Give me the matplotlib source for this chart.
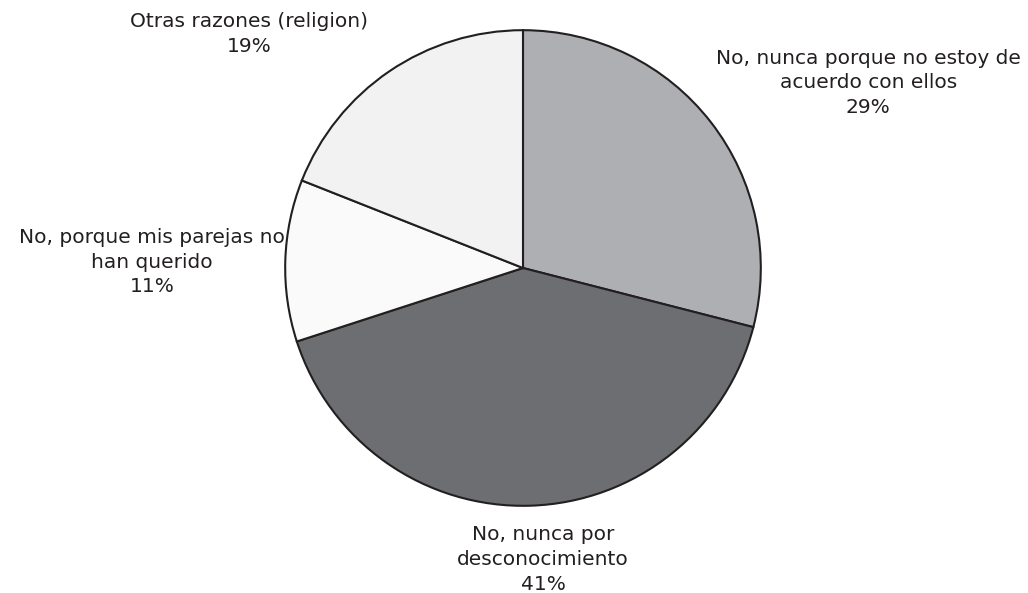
import matplotlib
matplotlib.use("Agg")
import matplotlib.pyplot as plt

labels = ["No, nunca porque no estoy de\nacuerdo con ellos",
          "No, nunca por\ndesconocimiento",
          "No, porque mis parejas no\nhan querido",
          "Otras razones (religion)"]
values = [29, 41, 11, 19]
colors = ["#aeafb2", "#6d6e71", "#fafafa", "#f2f2f2"]
label_pos = [(1.452, 0.778), (0.084, -1.225), (-1.561, 0.025), (-1.151, 0.983)]

fig = plt.figure(figsize=(10.28, 5.93), dpi=100)
ax = fig.add_axes([284/1028, 86/593, 478/1028, 478/593])
ax.pie(values, colors=colors, startangle=90, counterclock=False, radius=1,
       wedgeprops=dict(edgecolor="#231f20", linewidth=1.5))
ax.set_xlim(-1.005, 1.005)
ax.set_ylim(-1.005, 1.005)
ax.set_aspect("equal")
ax.axis("off")
for lab, v, (x, y) in zip(labels, values, label_pos):
    ax.text(x, y, f"{lab}\n{v}%", ha="center", va="center", fontsize=14.5,
            family="DejaVu Sans", color="#231f20", linespacing=1.38, clip_on=False)
fig.savefig("out.png", dpi=100)
